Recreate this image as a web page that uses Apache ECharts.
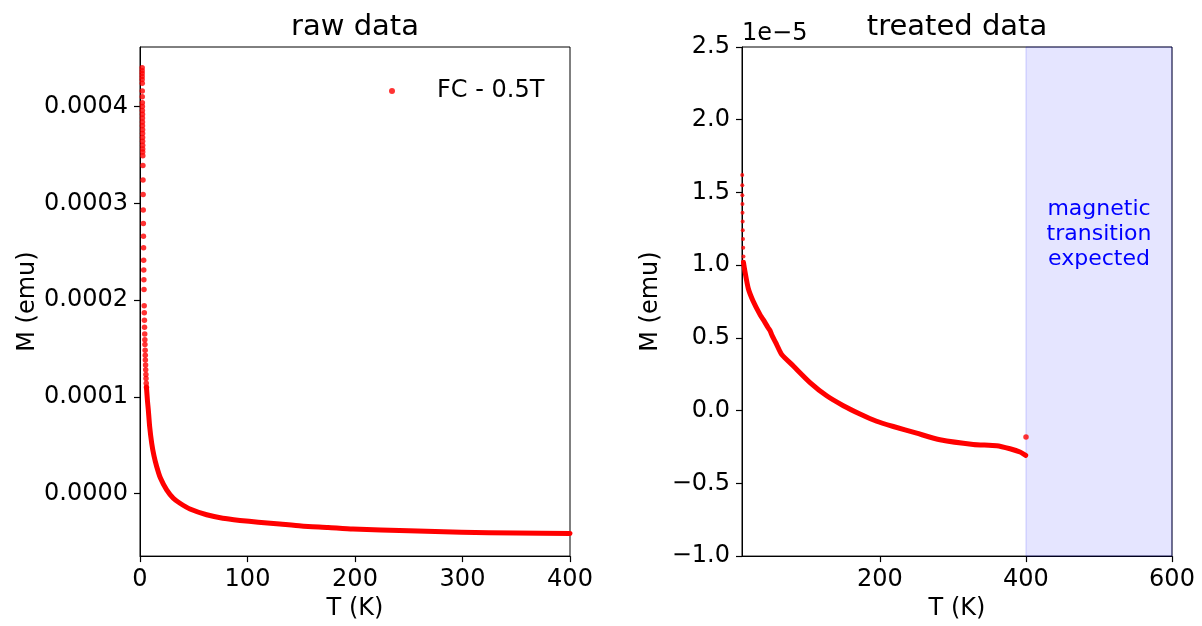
<!DOCTYPE html>
<html><head><meta charset="utf-8">
<script src="https://cdn.jsdelivr.net/npm/echarts@6/dist/echarts.min.js"></script>
<style>html,body{margin:0;padding:0;background:#fff}#c{width:1202px;height:626px}</style>
</head><body><div id="c"></div>
<script>
// ---- raw data (left panel), M in emu ----
const rawSpikeT = [2.0,2.0,2.0,2.0,2.0, 2.1,2.1,2.1, 2.2,2.2,2.2,2.3,2.3,2.3,2.3,2.4,2.4,2.4,2.4,2.5,2.5,2.5,
  2.6,2.7,2.8,2.9,3.0,3.1,3.2,3.3,3.4,3.5,3.6,3.7,3.9,4.0,4.1,4.2,4.4,4.5,4.6,4.8,4.9,5.0,5.2,5.3,5.5,5.6,5.8,6.0];
const rawSpikeM = [0.000440,0.000437,0.000434,0.000431,0.000428, 0.000424,0.000416,0.000410,
  0.000404,0.000400,0.000396,0.000392,0.000388,0.000384,0.000380,0.000376,0.000372,0.000368,0.000364,0.000360,0.000356,0.000353,
  0.000349,0.000339,0.000324,0.000309,0.000293,0.000279,0.000266,0.000254,0.000241,0.000231,0.000221,0.000211,0.000194,0.000187,
  0.000179,0.000172,0.000165,0.000159,0.000154,0.000148,0.000143,0.000138,0.000133,0.000128,0.000123,0.000119,0.000114,0.000110];
const rawT = [6.0,7.0,7.7,9,10.9,13,15.5,19,24.8,31,37.2,46.5,62,77,93,110,127,150,175,198,250,299,350,400];
const rawM = [0.000110,0.000095,0.000087,0.000069,0.000052,0.000039,0.000028,0.000016,0.0000038,-0.0000048,
  -0.000010,-0.000016,-0.0000219,-0.0000255,-0.0000277,-0.0000296,-0.0000311,-0.0000335,-0.000035,
  -0.0000366,-0.0000385,-0.0000400,-0.0000408,-0.0000413];

// ---- treated data (right panel), M in units of 1e-5 emu ----
const trSpikeT = [11.3,11.4,11.5,11.6,11.7,11.9,12.1,12.4,12.7,13.0];
const trSpikeM = [1.62,1.55,1.48,1.42,1.36,1.30,1.24,1.18,1.12,1.06];
const trT = [13.0,15.1,19.6,26.5,35.7,42,47,49.5,51.7,58.5,65.4,81.3,104.2,127,149.8,172.6,195.4,218.3,250.3,282.2,327.8,359.9,378.1,391.8,399.6];
const trM = [1.02,0.955,0.84,0.75,0.66,0.61,0.568,0.55,0.522,0.454,0.386,0.307,0.193,0.102,0.034,-0.023,-0.073,-0.109,-0.155,-0.200,-0.232,-0.241,-0.262,-0.284,-0.307];
const trOutlierT = [400];
const trOutlierM = [-0.182];

const rawYTicks = [0, 0.0001, 0.0002, 0.0003, 0.0004];
const trXTicks = [200, 400, 600];
const shadeRange = [400, 600];
const annotation = 'magnetic\ntransition\nexpected';
const legendName = 'FC - 0.5T';

const zip = (a, b) => a.map((v, i) => [v, b[i]]);
const FONT = 'DejaVu Sans';
const RED = '#ff0000';

const axisBase = () => ({
  type: 'value',
  axisLine: { show: true, onZero: false, lineStyle: { color: '#000', width: 1 } },
  axisTick: { show: true, inside: false, length: 6, lineStyle: { color: '#000', width: 1.2 } },
  axisLabel: { color: '#000', fontFamily: FONT, fontSize: 24, margin: 12 },
  splitLine: { show: false },
  nameTextStyle: { color: '#000', fontFamily: FONT, fontSize: 24 },
  nameLocation: 'middle'
});

const xL = Object.assign(axisBase(), { gridIndex: 0, min: 0, max: 400, interval: 100, name: 'T (K)', nameGap: 33 });
const xR = Object.assign(axisBase(), { gridIndex: 1, min: 11, max: 600, name: 'T (K)', nameGap: 33 });
xR.axisLabel.customValues = trXTicks;
xR.axisTick.customValues = trXTicks;

const yL = Object.assign(axisBase(), { gridIndex: 0, min: -0.0000646, max: 0.0004615, name: 'M (emu)', nameGap: 100 });
yL.axisLabel.customValues = rawYTicks;
yL.axisLabel.formatter = v => v.toFixed(4);
yL.axisTick.customValues = rawYTicks;

const yR = Object.assign(axisBase(), { gridIndex: 1, min: -1.0, max: 2.5, interval: 0.5, name: 'M (emu)', nameGap: 79 });
yR.axisLabel.formatter = v => (v < 0 ? '\u2212' : '') + Math.abs(v).toFixed(1);

const titleStyle = { fontFamily: FONT, fontSize: 29, fontWeight: 'normal', color: '#000' };

const chart = echarts.init(document.getElementById('c'));
chart.setOption({
  animation: false,
  backgroundColor: '#fff',
  title: [
    { text: 'raw data', left: 355, top: 13, textAlign: 'center', padding: 0, textStyle: titleStyle },
    { text: 'treated data', left: 957, top: 13, textAlign: 'center', padding: 0, textStyle: titleStyle },
    { text: '1e\u22125', left: 742, top: 22, textAlign: 'left', padding: 0,
      textStyle: { fontFamily: FONT, fontSize: 24, fontWeight: 'normal', color: '#000' } }
  ],
  legend: {
    data: [{ name: legendName, icon: 'circle' }],
    left: 389, top: 79, itemWidth: 6, itemHeight: 6, padding: 0,
    textStyle: { fontFamily: FONT, fontSize: 24, color: '#000', padding: [0, 0, 0, 37] }
  },
  grid: [
    { left: 140, top: 47, width: 430, height: 513, show: true, borderColor: '#000', borderWidth: 1, backgroundColor: 'transparent' },
    { left: 742, top: 47, width: 430, height: 513, show: true, borderColor: '#000', borderWidth: 1, backgroundColor: 'transparent' }
  ],
  xAxis: [xL, xR],
  yAxis: [yL, yR],
  series: [
    { name: legendName, type: 'scatter', xAxisIndex: 0, yAxisIndex: 0, symbolSize: 5.5,
      itemStyle: { color: RED }, data: zip(rawSpikeT, rawSpikeM), z: 3 },
    { name: 'raw-line', type: 'line', xAxisIndex: 0, yAxisIndex: 0, showSymbol: false, smooth: 0.2,
      lineStyle: { color: RED, width: 5, cap: 'round', join: 'round' }, itemStyle: { color: RED },
      data: zip(rawT, rawM), z: 3 },
    { name: 'shade', type: 'scatter', xAxisIndex: 1, yAxisIndex: 1, data: [], z: 1, silent: true,
      markArea: { silent: true,
        itemStyle: { color: 'rgba(0,0,255,0.1)', borderColor: 'rgba(0,0,255,0.18)', borderWidth: 1 },
        data: [[{ xAxis: shadeRange[0] }, { xAxis: shadeRange[1] }]] },
      markPoint: { silent: true, symbol: 'circle', symbolSize: 0,
        label: { show: true, position: 'inside', formatter: annotation, color: '#0000ff',
          fontFamily: FONT, fontSize: 22, lineHeight: 25, align: 'center' },
        data: [{ coord: [500, 1.21] }] } },
    { name: 'tr-spike', type: 'scatter', xAxisIndex: 1, yAxisIndex: 1, symbolSize: 4,
      itemStyle: { color: RED }, data: zip(trSpikeT, trSpikeM), z: 3 },
    { name: 'tr-line', type: 'line', xAxisIndex: 1, yAxisIndex: 1, showSymbol: false, smooth: 0.2,
      lineStyle: { color: RED, width: 5, cap: 'round', join: 'round' }, itemStyle: { color: RED },
      data: zip(trT, trM), z: 3 },
    { name: 'tr-outlier', type: 'scatter', xAxisIndex: 1, yAxisIndex: 1, symbolSize: 5.5,
      itemStyle: { color: RED }, data: zip(trOutlierT, trOutlierM), z: 3 }
  ]
});
</script></body></html>
